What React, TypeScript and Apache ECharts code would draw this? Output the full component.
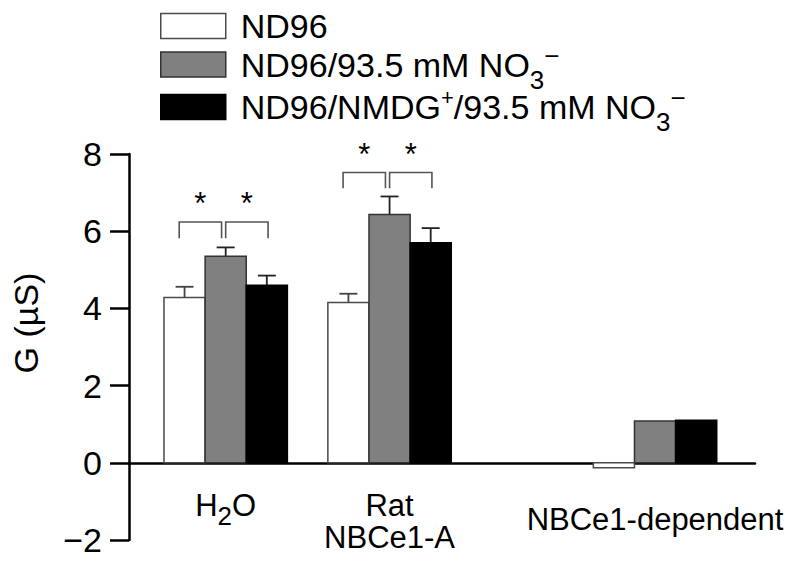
import React, { useEffect, useRef } from "react";
import * as echarts from "echarts";

// ---- data ----
const groupLabels = ["H2O", "Rat NBCe1-A", "NBCe1-dependent"];
const groupPos = [1, 2, 3.62];
const seriesNames = ["ND96", "ND96/93.5 mM NO3-", "ND96/NMDG+/93.5 mM NO3-"];
const valuesND96 = [4.28, 4.15, -0.13];
const valuesNO3 = [5.35, 6.43, 1.08];
const valuesNMDG = [4.6, 5.7, 1.1];
const seND96 = [0.28, 0.23, null];
const seNO3 = [0.23, 0.47, null];
const seNMDG = [0.25, 0.38, null];
const bracketGroup = [1, 2];
const bracketTop = [6.24, 7.52];
const bracketLeg = [5.82, 7.11];
const yTicks = { min: -2, max: 8, interval: 2 };

const FONT = '"Liberation Sans", Arial, Helvetica, sans-serif';
const BAR_W = 0.251; // in x units
const fills = ["#ffffff", "#808080", "#000000"];
const borders = ["#4a4a4a", "#333333", "#000000"];
const errColors = ["#444444", "#222222", "#222222"];
const legendTops = [9, 42.5, 85];

export default function App() {
  const ref = useRef<HTMLDivElement>(null);
  useEffect(() => {
    if (!ref.current) return;
    const chart = echarts.init(ref.current, undefined, { renderer: "svg" });
    const allValues = [valuesND96, valuesNO3, valuesNMDG];
    const allSe = [seND96, seNO3, seNMDG];

    const barSeries = seriesNames.map((name, si) => ({
      type: "custom",
      name,
      z: 3,
      itemStyle: { color: fills[si], borderColor: borders[si], borderWidth: 1.5 },
      data: allValues[si].map((v, gi) => [groupPos[gi], v, allSe[si][gi] == null ? 0 : allSe[si][gi]]),
      encode: { x: 0, y: 1 },
      renderItem: (params: any, api: any) => {
        const x = api.value(0);
        const v = api.value(1);
        const se = api.value(2);
        const bw = api.size([BAR_W, 0])[0];
        const base = api.coord([x, 0]);
        const top = api.coord([x, v]);
        const cx = base[0] + (si - 1) * bw;
        const children: any[] = [];
        if (se > 0) {
          const e = api.coord([x, v + se]);
          children.push({
            type: "line",
            shape: { x1: cx, y1: top[1], x2: cx, y2: e[1] },
            style: { stroke: errColors[si], lineWidth: 1.8 },
          });
          children.push({
            type: "line",
            shape: { x1: cx - 9, y1: e[1], x2: cx + 9, y2: e[1] },
            style: { stroke: errColors[si], lineWidth: 1.8 },
          });
        }
        children.push({
          type: "rect",
          shape: {
            x: cx - bw / 2,
            y: Math.min(top[1], base[1]),
            width: bw,
            height: Math.abs(base[1] - top[1]),
          },
          style: { fill: fills[si], stroke: borders[si], lineWidth: 1.5 },
        });
        return { type: "group", children };
      },
    }));

    const bracketSeries = {
      type: "custom",
      name: "brackets",
      z: 4,
      data: bracketGroup.map((g, i) => [g, bracketTop[i], bracketLeg[i]]),
      encode: { x: 0, y: 1 },
      renderItem: (params: any, api: any) => {
        const x = api.value(0);
        const bw = api.size([BAR_W, 0])[0];
        const t = api.coord([x, api.value(1)]);
        const l = api.coord([x, api.value(2)]);
        const cx = t[0];
        const spans = [
          [cx - 1.13 * bw, cx - 0.1 * bw],
          [cx + 0.0 * bw, cx + 1.03 * bw],
        ];
        const children: any[] = [];
        spans.forEach(([a, b]) => {
          children.push({
            type: "polyline",
            shape: { points: [[a, l[1]], [a, t[1]], [b, t[1]], [b, l[1]]] },
            style: { stroke: "#555555", lineWidth: 1.6, fill: "none" },
          });
          children.push({
            type: "text",
            style: {
              text: "*",
              x: (a + b) / 2,
              y: t[1] - 3,
              align: "center",
              verticalAlign: "bottom",
              fontSize: 31,
              fontFamily: FONT,
              fill: "#000",
            },
          });
        });
        return { type: "group", children };
      },
    };

    const xLabelRich = (name: string) => {
      if (name === "H2O") return "{n|H}{s|2}{n|O}";
      if (name === "Rat NBCe1-A") return "{n|Rat}\n{n|NBCe1-A}";
      return "{d|" + name + "}";
    };
    const legendRich = (name: string) => {
      if (name === "ND96") return "{n|ND96}";
      if (name === "ND96/93.5 mM NO3-") return "{n|ND96/93.5 mM NO}{s|3}{p|−}";
      return "{n|ND96/NMDG}{q|+}{n|/93.5 mM NO}{s|3}{p|−}";
    };
    const legendTextStyle = {
      padding: [0, 0, 0, 10],
      rich: {
        n: { fontSize: 34, lineHeight: 34, fontFamily: FONT, color: "#000" },
        s: { fontSize: 26, lineHeight: 4, height: 4, verticalAlign: "bottom", fontFamily: FONT, color: "#000" },
        p: { fontSize: 26, lineHeight: 16, height: 16, verticalAlign: "top", fontFamily: FONT, color: "#000" },
        q: { fontSize: 22, lineHeight: 14, height: 14, verticalAlign: "top", fontFamily: FONT, color: "#000" },
      },
    };

    const legends = seriesNames.map((n, i) => ({
      orient: "vertical",
      left: 160,
      top: legendTops[i],
      padding: 0,
      itemWidth: 65,
      itemHeight: 25,
      icon: "rect",
      selectedMode: false,
      data: [{ name: n, itemStyle: { color: fills[i], borderColor: borders[i], borderWidth: 1.5 } }],
      formatter: (name: string) => legendRich(name),
      textStyle: legendTextStyle,
    }));

    chart.setOption({
      animation: false,
      grid: { left: 129, right: 38, top: 154, bottom: 30, containLabel: false, outerBoundsMode: "none" },
      legend: legends,
      xAxis: {
        type: "value",
        min: 0.41,
        max: 4.23,
        splitLine: { show: false },
        axisLine: { onZero: true, lineStyle: { color: "#000", width: 2.5 } },
        axisTick: { show: false },
        axisLabel: {
          customValues: groupPos,
          margin: -51,
          hideOverlap: false,
          formatter: (v: number) => {
            const i = groupPos.findIndex((p) => Math.abs(p - v) < 1e-6);
            return i >= 0 ? xLabelRich(groupLabels[i]) : "";
          },
          rich: {
            n: { fontSize: 31, lineHeight: 32, fontFamily: FONT, color: "#000" },
            s: { fontSize: 26, lineHeight: 10, height: 10, verticalAlign: "bottom", fontFamily: FONT, color: "#000" },
            d: { fontSize: 31, lineHeight: 60, fontFamily: FONT, color: "#000" },
          },
        },
      },
      yAxis: {
        type: "value",
        min: yTicks.min,
        max: yTicks.max,
        interval: yTicks.interval,
        splitLine: { show: false },
        axisLine: { show: true, onZero: false, lineStyle: { color: "#000", width: 2.5 } },
        axisTick: { show: true, length: 19, lineStyle: { color: "#000", width: 2.5 } },
        axisLabel: {
          margin: 27,
          fontSize: 34,
          fontFamily: FONT,
          color: "#000",
          formatter: (v: number) => (v < 0 ? "−" + Math.abs(v) : String(v)),
        },
        name: "G (µS)",
        nameLocation: "middle",
        nameRotate: 90,
        nameGap: 86,
        nameTextStyle: {
          fontSize: 34,
          fontFamily: FONT,
          color: "#000",
          padding: [0, 0, 0, 48],
        },
      },
      series: [...barSeries, bracketSeries],
    } as any);
    return () => chart.dispose();
  }, []);
  return <div ref={ref} style={{ width: 793, height: 570, position: "absolute", left: 0, top: 0 }} />;
}
